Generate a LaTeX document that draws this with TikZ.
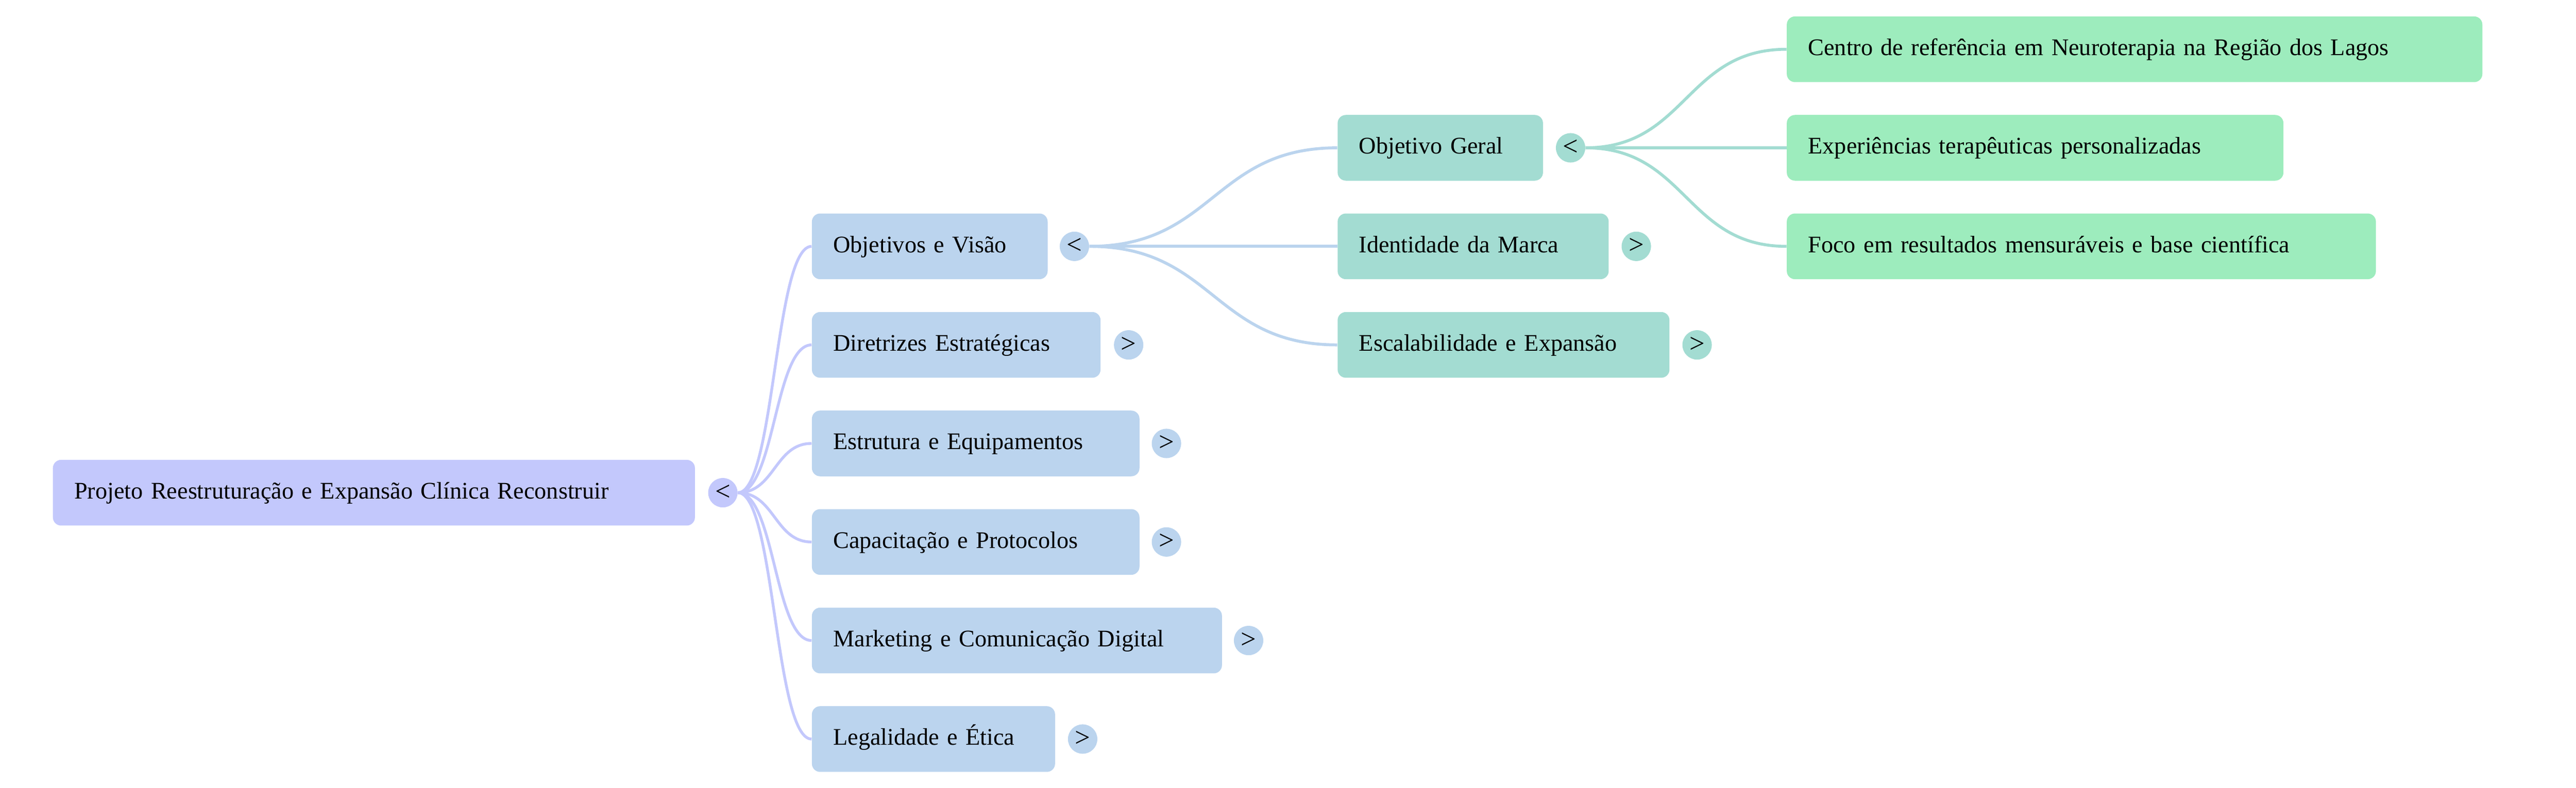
\documentclass[tikz,border=0pt]{standalone}
\usepackage{fontspec}
\setmainfont{Liberation Serif}
\usetikzlibrary{calc}
\definecolor{cRoot}{RGB}{195,200,252}
\definecolor{cOne}{RGB}{187,212,238}
\definecolor{cTwo}{RGB}{163,220,210}
\definecolor{cThree}{RGB}{157,236,189}
\newcommand\edgeconn[3]{\draw[#1] let \p1=(#2), \p2=(#3) in (\p1) .. controls ({(\x1+\x2)/2},\y1) and ({(\x1+\x2)/2},\y2) .. (\p2);}
\begin{document}
\begin{tikzpicture}[x=1pt,y=-1pt,
  font=\fontsize{14.5}{17}\selectfont,
  box/.style={rectangle, rounded corners=5pt, draw=none, minimum height=40pt,
    inner ysep=0pt, inner xsep=13pt, align=left, text height=10.5pt, text depth=3pt, anchor=west},
  rootbox/.style={box, fill=cRoot},
  onebox/.style={box, fill=cOne},
  twobox/.style={box, fill=cTwo},
  threebox/.style={box, fill=cThree},
  tog/.style={circle, minimum size=17.9pt, inner sep=0pt, font=\fontsize{16.5}{16.5}\selectfont},
  eroot/.style={draw=cRoot, line width=1.7pt},
  eone/.style={draw=cOne, line width=1.8pt},
  etwo/.style={draw=cTwo, line width=1.8pt},
]
\useasboundingbox (0,0) rectangle (1568,479.5);

% root
\node[rootbox, text width=364.8pt] (root) at (32,300) {Projeto Reestruturação e Expansão Clínica Reconstruir};
\node[tog, fill=cRoot] (troot) at (440,300) {\raisebox{0.4pt}{\textless}};

% level 1
\node[onebox, text width=117.5pt] (obj) at (494,150) {Objetivos e Visão};
\node[onebox, text width=149.7pt] (dir) at (494,210) {Diretrizes Estratégicas};
\node[onebox, text width=173.4pt] (est) at (494,270) {Estrutura e Equipamentos};
\node[onebox, text width=173.4pt] (cap) at (494,330) {Capacitação e Protocolos};
\node[onebox, text width=223.6pt] (mkt) at (494,390) {Marketing e Comunicação Digital};
\node[onebox, text width=122pt] (leg) at (494,450) {Legalidade e Ética};

\node[tog, fill=cOne] (tobj) at (654,150) {\raisebox{0.4pt}{\textless}};
\node[tog, fill=cOne] (tdir) at (687,210) {\raisebox{0.4pt}{\textgreater}};
\node[tog, fill=cOne] (test) at (710,270) {\raisebox{0.4pt}{\textgreater}};
\node[tog, fill=cOne] (tcap) at (710,330) {\raisebox{0.4pt}{\textgreater}};
\node[tog, fill=cOne] (tmkt) at (760,390) {\raisebox{0.4pt}{\textgreater}};
\node[tog, fill=cOne] (tleg) at (659,450) {\raisebox{0.4pt}{\textgreater}};

% level 2
\node[twobox, text width=99pt] (og) at (814,90) {Objetivo Geral};
\node[twobox, text width=139pt] (idm) at (814,150) {Identidade da Marca};
\node[twobox, text width=176pt] (esc) at (814,210) {Escalabilidade e Expansão};

\node[tog, fill=cTwo] (tog1) at (956,90) {\raisebox{0.4pt}{\textless}};
\node[tog, fill=cTwo] (tidm) at (996,150) {\raisebox{0.4pt}{\textgreater}};
\node[tog, fill=cTwo] (tesc) at (1033,210) {\raisebox{0.4pt}{\textgreater}};

% level 3
\node[threebox, text width=397.4pt] (cen) at (1087.4,30) {Centro de referência em Neuroterapia na Região dos Lagos};
\node[threebox, text width=276.3pt] (exp) at (1087.4,90) {Experiências terapêuticas personalizadas};
\node[threebox, text width=332.6pt] (foc) at (1087.4,150) {Foco em resultados mensuráveis e base científica};

% connectors
\edgeconn{eroot}{troot.east}{obj.west}
\edgeconn{eroot}{troot.east}{dir.west}
\edgeconn{eroot}{troot.east}{est.west}
\edgeconn{eroot}{troot.east}{cap.west}
\edgeconn{eroot}{troot.east}{mkt.west}
\edgeconn{eroot}{troot.east}{leg.west}

\edgeconn{eone}{tobj.east}{og.west}
\edgeconn{eone}{tobj.east}{idm.west}
\edgeconn{eone}{tobj.east}{esc.west}

\edgeconn{etwo}{tog1.east}{cen.west}
\edgeconn{etwo}{tog1.east}{exp.west}
\edgeconn{etwo}{tog1.east}{foc.west}
\end{tikzpicture}
\end{document}
